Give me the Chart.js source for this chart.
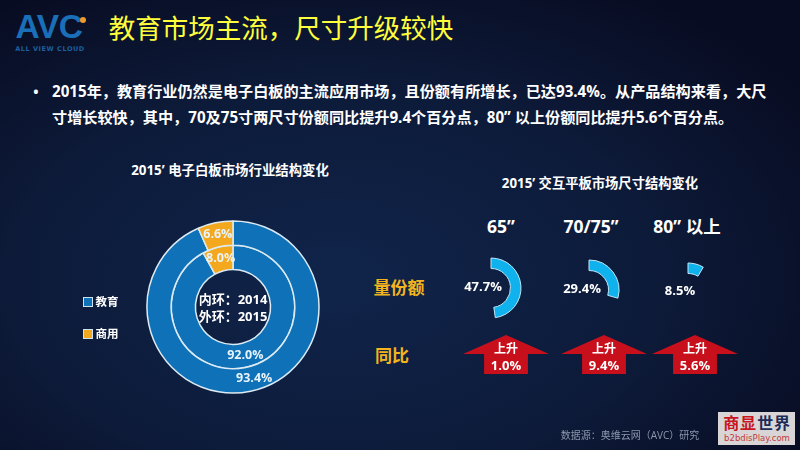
<!DOCTYPE html>
<html>
<head>
<meta charset="utf-8">
<script src="https://cdn.jsdelivr.net/npm/chart.js@4"></script>
<style>
  html, body { margin: 0; padding: 0; }
  body {
    width: 800px; height: 450px; overflow: hidden; position: relative;
    font-family: "Open Sans", "Noto Sans CJK SC", sans-serif; color: #fff;
    background: radial-gradient(ellipse 560px 340px at 42% 62%, #10244a 0%, #0d1b3a 55%, #080c22 100%);
  }
  .t { position: absolute; white-space: nowrap; line-height: 1; transform: translate(-50%, -50%); }
  .l { position: absolute; white-space: nowrap; line-height: 1; }
  .b { font-weight: 700; }
  canvas { position: absolute; }
  .arrow {
    position: absolute; top: 335px; width: 86px; height: 39px; background: #c8101c;
    clip-path: polygon(50% 0, 100% 49%, 75.5% 49%, 75.5% 100%, 24.5% 100%, 24.5% 49%, 0 49%);
  }
  .sq { position: absolute; width: 8px; height: 8px; border: 1px solid #cfe3ef; }
</style>
</head>
<body>
<!-- logo -->
<div class="t b" style="left:49px;top:27px;font:700 33.5px 'Liberation Sans';letter-spacing:-.4px;color:#1a6fb8">AVC</div>
<div style="position:absolute;left:80px;top:17px;width:6px;height:6px;border-radius:50%;background:#ee9a2e"></div>
<div class="t b" style="left:50px;top:49px;font:700 6.5px 'DejaVu Sans';letter-spacing:.55px;color:#1d5f9e">ALL VIEW CLOUD</div>

<div class="t" style="left:281px;top:28px;font-size:26.5px;color:#ffff3c">教育市场主流，尺寸升级较快</div>

<div class="t b" style="left:36px;top:92px;font-size:14px">•</div>
<div class="l b" style="left:52px;top:84px;font-size:15.15px">2015年，教育行业仍然是电子白板的主流应用市场，且份额有所增长，已达93.4%。从产品结构来看，大尺</div>
<div class="l b" style="left:52px;top:110px;font-size:15.15px">寸增长较快，其中，70及75寸两尺寸份额同比提升9.4个百分点，80” 以上份额同比提升5.6个百分点。</div>

<div class="t b" style="left:230px;top:171px;font-size:13.4px">2015’ 电子白板市场行业结构变化</div>
<div class="t b" style="left:600px;top:184px;font-size:13.3px">2015’ 交互平板市场尺寸结构变化</div>

<canvas id="ringChart" width="176" height="176" style="left:145px;top:219px;width:176px;height:176px"></canvas>
<div class="t b" style="left:233px;top:299px;font-size:13px">内环：2014</div>
<div class="t b" style="left:233px;top:316px;font-size:13px">外环：2015</div>
<div id="legendBox"></div>

<div class="t b" style="left:399px;top:287px;font-size:17px;color:#f4b41e">量份额</div>
<div class="t b" style="left:392px;top:355px;font-size:17px;color:#f4b41e">同比</div>

<div id="sizeBox"></div>

<div class="t" style="left:630px;top:435px;font-size:10px;color:#8b97ab">数据源：奥维云网（AVC）研究</div>

<!-- watermark -->
<div style="position:absolute;left:718px;top:412px;width:77px;height:33px;background:#d9d5d6"></div>
<div class="t b" style="left:740px;top:423px;font-size:16px;color:#c8141e;letter-spacing:.8px">商显</div>
<div class="t b" style="left:774px;top:423px;font-size:16px;color:#1c2c58;letter-spacing:.8px">世界</div>
<div class="t" style="left:757px;top:438px;font:8.5px 'DejaVu Sans';color:#c23a40">b2bdisPlay.com</div>

<script>
const ringLabels = ["教育", "商用"];
const values2015 = [93.4, 6.6];
const values2014 = [92.0, 8.0];
const ringColors = ["#0f71b7", "#f4a81d"];

const sizeLabels = ["65”", "70/75”", "80” 以上"];
const sizeShare = [47.7, 29.4, 8.5];
const sizeChange = [1.0, 9.4, 5.6];

// puts each value in the middle of its own slice
const sliceLabels = {
  id: "sliceLabels",
  afterDatasetsDraw(chart) {
    const c = chart.ctx;
    c.save();
    c.font = "700 12.5px 'Open Sans'";
    c.fillStyle = "#e8f4fb";
    c.textAlign = "center";
    c.textBaseline = "middle";
    chart.data.datasets.forEach((ds, i) => {
      chart.getDatasetMeta(i).data.forEach((arc, j) => {
        const p = arc.getCenterPoint();
        // the big outer label sits a little right of its slice centre
        const nudge = i === 0 && j === 0 ? 6 : 0;
        c.fillText(ds.data[j].toFixed(1) + "%", p.x + nudge, p.y - (nudge ? 1 : 0));
      });
    });
    c.restore();
  },
};

new Chart(document.getElementById("ringChart"), {
  type: "doughnut",
  data: {
    labels: ringLabels,
    datasets: [
      { data: values2015, backgroundColor: ringColors, borderColor: "#dcebf3", borderWidth: 1.5 },
      { data: values2014, backgroundColor: ringColors, borderColor: "#dcebf3", borderWidth: 1.5 },
    ],
  },
  options: {
    responsive: false,
    animation: false,
    events: [],
    radius: 86,
    cutout: "43.6%",
    plugins: { legend: { display: false }, tooltip: { enabled: false } },
  },
  plugins: [sliceLabels],
});

// legend
const legendBox = document.getElementById("legendBox");
const legendTop = [302, 334];
ringLabels.forEach((name, i) => {
  legendBox.innerHTML +=
    `<div class="sq" style="left:83px;top:${legendTop[i] - 5}px;background:${ringColors[i]}"></div>` +
    `<div class="t b" style="left:107px;top:${legendTop[i]}px;font-size:11.5px">${name}</div>`;
});

// the three size columns
const sizeBox = document.getElementById("sizeBox");
const headX = [501, 591, 687];
const arcX = [491, 589, 688];
const arcY = [287.5, 290, 292.5];
const shareX = [483, 582, 680];
const shareY = [286, 288, 290];
const arrowX = [463, 561, 652];

sizeLabels.forEach((name, i) => {
  sizeBox.innerHTML +=
    `<div class="t b" style="left:${headX[i]}px;top:227px;font-size:17.5px">${name}</div>` +
    `<canvas id="size${i}" width="70" height="70" style="left:${arcX[i] - 35}px;top:${arcY[i] - 35}px;width:70px;height:70px"></canvas>` +
    `<div class="t b" style="left:${shareX[i]}px;top:${shareY[i]}px;font-size:13px">${sizeShare[i].toFixed(1)}%</div>` +
    `<div class="arrow" style="left:${arrowX[i]}px"></div>` +
    `<div class="t b" style="left:${arrowX[i] + 43}px;top:349px;font-size:12px">上升</div>` +
    `<div class="t b" style="left:${arrowX[i] + 43}px;top:365px;font-size:13px">${sizeChange[i].toFixed(1)}%</div>`;
});

sizeLabels.forEach((name, i) => {
  new Chart(document.getElementById("size" + i), {
    type: "doughnut",
    data: {
      labels: [name, ""],
      datasets: [{
        data: [sizeShare[i], 100 - sizeShare[i]],
        backgroundColor: ["#10b2ee", "rgba(0,0,0,0)"],
        borderColor: ["#bfe6f6", "rgba(0,0,0,0)"],
        borderWidth: 1,
      }],
    },
    options: {
      responsive: false,
      animation: false,
      events: [],
      radius: 30,
      cutout: "65%",
      plugins: { legend: { display: false }, tooltip: { enabled: false } },
    },
  });
});
</script>
</body>
</html>
